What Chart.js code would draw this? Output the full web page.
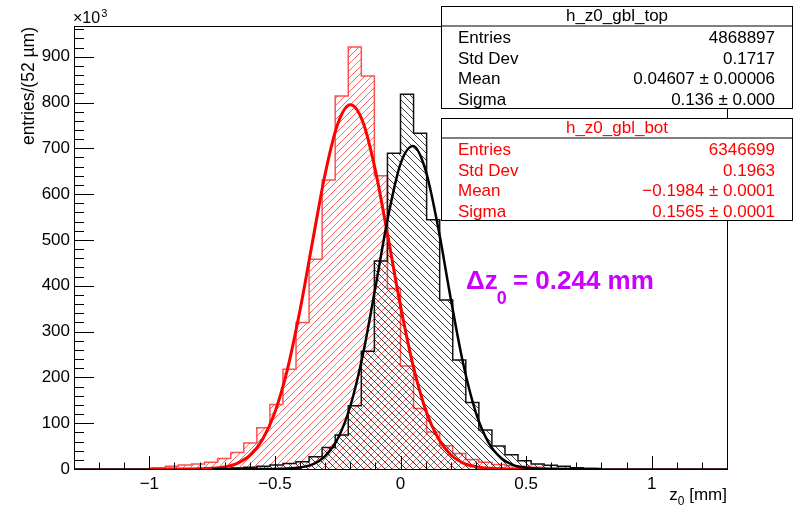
<!DOCTYPE html>
<html>
<head>
<meta charset="utf-8">
<script src="https://cdn.jsdelivr.net/npm/chart.js@4.4.0/dist/chart.umd.min.js"></script>
<style>
  body { margin: 0; background: #fff; }
  #chart { display: block; }
</style>
</head>
<body>
<canvas id="chart" width="798" height="520"></canvas>
<script>
// histogram binning: 50 bins of 52 um from -1.3 to 1.3 mm
const binLow = -1.3;
const binWidth = 0.052;

// entries per bin, x10^3
const topCounts = [
    0, 0, 0, 0, 0, 0, 0, 0, 0, 0,
    0, 0, 2, 4, 6, 9, 12, 16, 27, 47,
    74, 138, 257, 454, 689, 818, 733, 544, 369, 238,
    145, 85, 50, 31, 18, 11, 8, 6, 3, 1,
    0, 0, 0, 0, 0, 0, 0, 0, 0, 0
];
const botCounts = [
    0, 0, 0, 0, 0, 0, 2, 6, 9, 11,
    15, 23, 36, 57, 90, 141, 218, 320, 458, 631,
    814, 921, 858, 640, 394, 225, 132, 81, 51, 34,
    21, 15, 10, 7, 6, 4, 2, 1, 0, 0,
    0, 0, 0, 0, 0, 0, 0, 0, 0, 0
];

// gaussian fit curves
const topFitX = [-0.75, -0.7, -0.65, -0.6, -0.55, -0.5, -0.45, -0.4, -0.35, -0.3, -0.25, -0.2, -0.15, -0.1, -0.05,
    0, 0.05, 0.1, 0.15, 0.2, 0.25, 0.3, 0.35, 0.4, 0.45, 0.5, 0.55, 0.6, 0.65, 0.7, 0.75, 0.8];
const topFitY = [0, 0, 0, 0, 0.05, 0.2, 0.9, 3.2, 10, 28, 66, 137, 249, 396, 549,
    666, 705, 652, 527, 372, 229, 123, 58, 24, 8.6, 2.7, 0.7, 0.2, 0, 0, 0, 0];
const botFitX = [-1.0, -0.95, -0.9, -0.85, -0.8, -0.75, -0.7, -0.65, -0.6, -0.55, -0.5, -0.45, -0.4, -0.35, -0.3,
    -0.25, -0.2, -0.15, -0.1, -0.05, 0, 0.05, 0.1, 0.15, 0.2, 0.25, 0.3, 0.35, 0.4, 0.45, 0.5, 0.55];
const botFitY = [0, 0, 0, 0.1, 0.5, 1.6, 4.7, 12.5, 29.6, 64, 124, 218, 347, 497, 644,
    753, 795, 758, 652, 507, 356, 226, 129, 67, 31, 13, 5, 1.6, 0.5, 0.1, 0, 0];

const xTicks = [-1, -0.5, 0, 0.5, 1];
const yTicks = [0, 100, 200, 300, 400, 500, 600, 700, 800, 900];

const topStats = [['Entries', '4868897'], ['Std Dev', '0.1717'], ['Mean', '0.04607 \u00b1 0.00006'], ['Sigma', '0.136 \u00b1 0.000']];
const botStats = [['Entries', '6346699'], ['Std Dev', '0.1963'], ['Mean', '\u22120.1984 \u00b1 0.0001'], ['Sigma', '0.1565 \u00b1 0.0001']];

const FONT = '"Liberation Sans", Arial, Helvetica, sans-serif';

function steps(counts) {
    const pts = counts.map((c, k) => ({ x: binLow + k * binWidth, y: c }));
    pts.push({ x: binLow + counts.length * binWidth, y: counts[counts.length - 1] });
    return pts;
}

function curve(xs, ys) {
    return xs.map((v, i) => ({ x: v, y: ys[i] }));
}

function hatch(color, up) {
    const n = 7;
    const c = document.createElement('canvas');
    c.width = n; c.height = n;
    const g = c.getContext('2d');
    g.strokeStyle = color;
    g.lineWidth = 1;
    g.beginPath();
    if (up) {
        g.moveTo(-1, n + 1); g.lineTo(n + 1, -1);
        g.moveTo(-1, 1); g.lineTo(1, -1);
        g.moveTo(n - 1, n + 1); g.lineTo(n + 1, n - 1);
    } else {
        g.moveTo(-1, -1); g.lineTo(n + 1, n + 1);
        g.moveTo(n - 1, -1); g.lineTo(n + 1, 1);
        g.moveTo(-1, n - 1); g.lineTo(1, n + 1);
    }
    g.stroke();
    return g.createPattern(c, 'repeat');
}

function statBox(ctx, top, title, rows, color) {
    const left = 441.5, right = 792.5, h = 102;
    ctx.fillStyle = '#fff';
    ctx.fillRect(left, top, right - left, h);
    ctx.strokeStyle = '#000';
    ctx.lineWidth = 1;
    ctx.strokeRect(left, top, right - left, h);
    ctx.beginPath();
    ctx.moveTo(left, top + 19.5);
    ctx.lineTo(right, top + 19.5);
    ctx.stroke();
    ctx.fillStyle = color;
    ctx.font = '17px ' + FONT;
    ctx.textBaseline = 'middle';
    ctx.textAlign = 'center';
    ctx.fillText(title, (left + right) / 2, top + 10);
    rows.forEach((r, i) => {
        const yy = top + 32 + i * 20.5;
        ctx.textAlign = 'left';
        ctx.fillText(r[0], 458, yy);
        ctx.textAlign = 'right';
        ctx.fillText(r[1], 775, yy);
    });
}

const rootDecor = {
    id: 'rootDecor',
    afterDraw(chart) {
        const { ctx, chartArea: a, scales: { x, y } } = chart;
        ctx.save();
        ctx.strokeStyle = '#000';
        ctx.lineWidth = 1;
        ctx.beginPath();
        for (let v = 0; v <= 960; v += 20) {
            const py = Math.round(y.getPixelForValue(v)) + 0.5;
            const len = v % 100 === 0 ? 20 : 10;
            ctx.moveTo(a.left, py);
            ctx.lineTo(a.left + len, py);
        }
        for (let i = -13; i <= 13; i++) {
            const px = Math.round(x.getPixelForValue(i / 10)) + 0.5;
            const len = i % 5 === 0 ? 13 : 6.5;
            ctx.moveTo(px, a.bottom);
            ctx.lineTo(px, a.bottom - len);
        }
        ctx.stroke();
        ctx.strokeRect(Math.round(a.left) + 0.5, Math.round(a.top) + 0.5,
            Math.round(a.right - a.left), Math.round(a.bottom - a.top));

        statBox(ctx, 6.5, 'h_z0_gbl_top', topStats, '#000');
        statBox(ctx, 118.5, 'h_z0_gbl_bot', botStats, '#ff0000');

        // axis titles
        ctx.fillStyle = '#000';
        ctx.textBaseline = 'alphabetic';
        ctx.save();
        ctx.translate(34, 27);
        ctx.rotate(-Math.PI / 2);
        ctx.textAlign = 'right';
        ctx.font = '17.5px ' + FONT;
        ctx.fillText('entries/(52 \u00b5m)', 0, 0);
        ctx.restore();

        ctx.textAlign = 'left';
        ctx.font = '16px ' + FONT;
        ctx.fillText('\u00d710', 73, 23);
        const w10 = ctx.measureText('\u00d710').width;
        ctx.font = '11px ' + FONT;
        ctx.fillText('3', 73 + w10 + 1, 17);

        ctx.textAlign = 'right';
        ctx.font = '17px ' + FONT;
        ctx.fillText(' [mm]', 727, 500);
        const wmm = ctx.measureText(' [mm]').width;
        ctx.font = '12px ' + FONT;
        ctx.fillText('0', 727 - wmm, 505);
        const w0 = ctx.measureText('0').width;
        ctx.font = '17px ' + FONT;
        ctx.fillText('z', 727 - wmm - w0, 500);

        // delta z0 annotation
        ctx.fillStyle = '#cc00ff';
        ctx.textAlign = 'left';
        let px = 466;
        ctx.font = 'bold 26px ' + FONT;
        ctx.fillText('\u0394z', px, 289);
        px += ctx.measureText('\u0394z').width - 1;
        ctx.font = 'bold 18px ' + FONT;
        ctx.fillText('0', px, 304);
        px += ctx.measureText('0').width;
        ctx.font = 'bold 26px ' + FONT;
        ctx.fillText(' = 0.244 mm', px - 1, 289);
        ctx.restore();
    }
};

const chart = new Chart(document.getElementById('chart').getContext('2d'), {
    type: 'line',
    data: {
        datasets: [
            {
                data: steps(botCounts),
                stepped: true,
                borderColor: 'rgba(255, 50, 50, 0.85)',
                borderWidth: 1.5,
                backgroundColor: hatch('rgba(255, 0, 0, 0.6)', true),
                fill: 'origin',
                pointRadius: 0,
                order: 4
            },
            {
                data: steps(topCounts),
                stepped: true,
                borderColor: '#111',
                borderWidth: 1.5,
                backgroundColor: hatch('rgba(30, 30, 30, 0.85)', false),
                fill: 'origin',
                pointRadius: 0,
                order: 3
            },
            {
                data: curve(botFitX, botFitY),
                borderColor: '#ff0000',
                borderWidth: 3,
                cubicInterpolationMode: 'monotone',
                fill: false,
                pointRadius: 0,
                order: 2
            },
            {
                data: curve(topFitX, topFitY),
                borderColor: '#000',
                borderWidth: 2.5,
                cubicInterpolationMode: 'monotone',
                fill: false,
                pointRadius: 0,
                order: 1
            }
        ]
    },
    options: {
        responsive: false,
        devicePixelRatio: 1,
        animation: false,
        layout: { padding: { top: 26, right: 71, left: 0, bottom: 0 } },
        plugins: {
            legend: { display: false },
            tooltip: { enabled: false }
        },
        scales: {
            x: {
                type: 'linear',
                min: -1.3,
                max: 1.3,
                afterFit: s => { s.height = 51; },
                afterBuildTicks: s => { s.ticks = xTicks.map(v => ({ value: v })); },
                grid: { display: false, drawTicks: false },
                border: { display: false },
                ticks: {
                    padding: 5,
                    color: '#000',
                    font: { family: FONT, size: 17 },
                    maxRotation: 0,
                    callback: v => v < 0 ? '\u2212' + Math.abs(v) : String(v)
                }
            },
            y: {
                min: 0,
                max: 967,
                afterFit: s => { s.width = 74; },
                afterBuildTicks: s => { s.ticks = yTicks.map(v => ({ value: v })); },
                grid: { display: false, drawTicks: false },
                border: { display: false },
                ticks: {
                    padding: 4,
                    color: '#000',
                    font: { family: FONT, size: 17 }
                }
            }
        }
    },
    plugins: [rootDecor]
});
</script>
</body>
</html>
